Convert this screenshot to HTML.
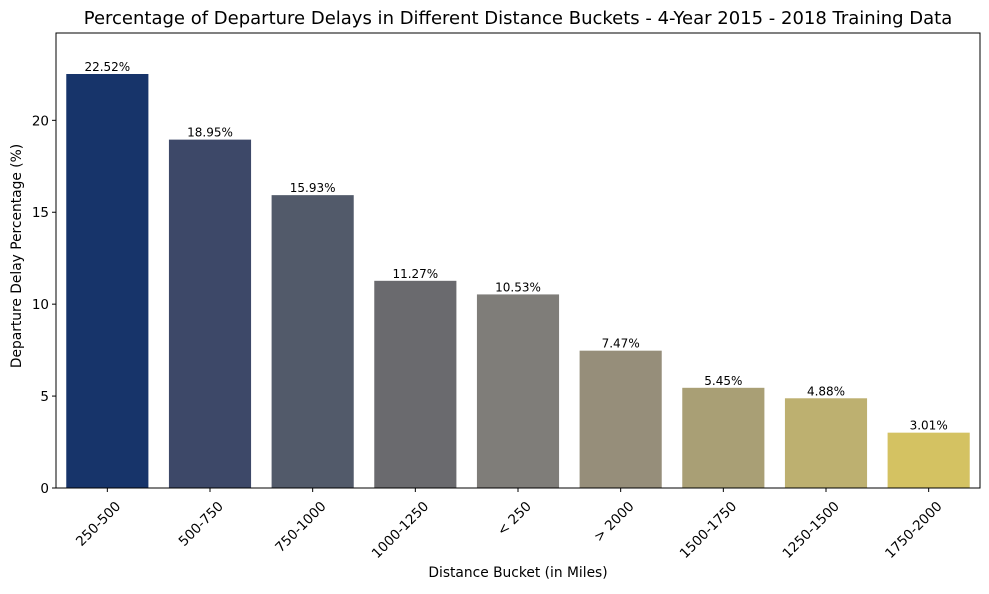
<!DOCTYPE html>
<html><head><meta charset="utf-8"><style>
body{margin:0;background:#fff;font-family:"DejaVu Sans","Liberation Sans",sans-serif}
</style></head><body>
<svg id="chart" width="989" height="590" xmlns="http://www.w3.org/2000/svg" font-family="DejaVu Sans, Liberation Sans, sans-serif">
<text x="518" y="24" font-size="18" text-anchor="middle">Percentage of Departure Delays in Different Distance Buckets - 4-Year 2015 - 2018 Training Data</text>
<text x="518" y="577" font-size="13.8" text-anchor="middle">Distance Bucket (in Miles)</text>
<text transform="translate(21,256) rotate(-90)" font-size="13.8" text-anchor="middle">Departure Delay Percentage (%)</text>
<g id="plot"></g>
</svg>
<script>
const categories=["250-500","500-750","750-1000","1000-1250","< 250","> 2000","1500-1750","1250-1500","1750-2000"];
const values=[22.52,18.95,15.93,11.27,10.53,7.47,5.45,4.88,3.01];
const valueLabels=["22.52%","18.95%","15.93%","11.27%","10.53%","7.47%","5.45%","4.88%","3.01%"];
const yTicks=[0,5,10,15,20];
const colors=["#17346a","#3d4868","#525a6a","#6a6a6e","#7f7d79","#968e7a","#a99f75","#bdb070","#d4c262"];
const L=56,R=980,T=33,B=488,yMax=24.75;
const y=v=>B-(v/yMax)*(B-T);
const step=(R-L)/categories.length;
const x=i=>L+step*(i+0.5);
const ns="http://www.w3.org/2000/svg";
const g=document.getElementById('plot');
function mk(tag,a){const e=document.createElementNS(ns,tag);for(const k in a)e.setAttribute(k,a[k]);g.appendChild(e);return e;}
values.forEach((v,i)=>{
 const w=step*0.8;
 const r=mk('rect',{x:x(i)-w/2,y:y(v),width:w,height:B-y(v),fill:colors[i]});
 
 
 const t=mk('text',{x:x(i),y:y(v)-3,'font-size':12,'text-anchor':'middle'});
 t.textContent=valueLabels[i];
 
 
 mk('line',{x1:x(i),x2:x(i),y1:B,y2:B+4,stroke:'#000'});
 const ax=x(i)+14, ay=B+19;
 const c=mk('text',{x:ax,y:ay,'font-size':13.5,'text-anchor':'end',transform:`rotate(-45 ${ax} ${ay})`});
 c.textContent=categories[i];
 
 
});
yTicks.forEach(v=>{
 mk('line',{x1:L-4,x2:L,y1:y(v),y2:y(v),stroke:'#000'});
 const t=mk('text',{x:L-7,y:y(v)+5,'font-size':13.5,'text-anchor':'end'});
 t.textContent=v;
 
 
});
const f=mk('rect',{x:L,y:T,width:R-L,height:B-T,fill:'none',stroke:'#000','stroke-width':1});


</script>
</body></html>
